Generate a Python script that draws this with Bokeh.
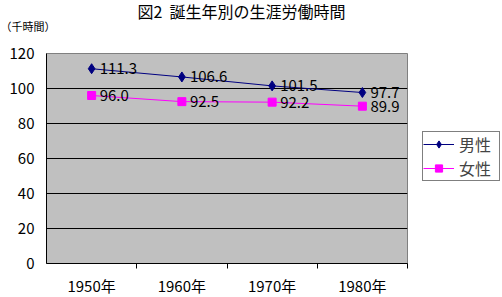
from bokeh.plotting import figure
from bokeh.models import Range1d, FixedTicker, Legend, LegendItem, ColumnDataSource, Title
from bokeh.core.properties import value
from bokeh.embed import file_html
from bokeh.resources import INLINE

years = ["1950年", "1960年", "1970年", "1980年"]
male = [111.3, 106.6, 101.5, 97.7]
female = [96.0, 92.5, 92.2, 89.9]
male_name = "男性"
female_name = "女性"
title_text = "図2\u00a0\u00a0誕生年別の生涯労働時間"
unit_text = "（千時間）"
y_ticks = [0, 20, 40, 60, 80, 100, 120]

FONT = "'Noto Sans CJK JP', 'Noto Sans', sans-serif"
xs = [i + 0.5 for i in range(len(years))]

p = figure(frame_width=361, frame_height=210, output_backend="svg", toolbar_location=None,
           x_range=Range1d(0, len(years)), y_range=Range1d(0, 120),
           min_border_left=46, min_border_right=95, min_border_top=53, min_border_bottom=33)
p.background_fill_color = "#C0C0C0"
p.border_fill_color = "white"
p.outline_line_color = "#808080"
p.outline_line_width = 1

# axes
p.yaxis.ticker = FixedTicker(ticks=y_ticks)
p.yaxis.major_tick_line_color = None
p.yaxis.major_tick_out = 0
p.yaxis.major_tick_in = 0
p.yaxis.minor_tick_line_color = None
p.yaxis.axis_line_color = "black"
p.yaxis.major_label_standoff = 12
p.yaxis.major_label_text_font = FONT
p.yaxis.major_label_text_font_size = "15px"
p.yaxis.major_label_text_color = "black"

p.xaxis.ticker = FixedTicker(ticks=xs, minor_ticks=[i + 1 for i in range(len(years))])
p.xaxis.major_label_overrides = {x: y for x, y in zip(xs, years)}
p.xaxis.major_tick_line_color = None
p.xaxis.major_tick_out = 0
p.xaxis.major_tick_in = 0
p.xaxis.minor_tick_line_color = "black"
p.xaxis.minor_tick_in = 0
p.xaxis.minor_tick_out = 5
p.xaxis.axis_line_color = "black"
p.xaxis.major_label_standoff = 6
p.xaxis.major_label_text_font = FONT
p.xaxis.major_label_text_font_size = "15px"
p.xaxis.major_label_text_color = "black"

p.xgrid.grid_line_color = None
p.ygrid.grid_line_color = "black"
p.ygrid.grid_line_alpha = 1.0
p.ygrid.ticker = FixedTicker(ticks=[20, 40, 60, 80, 100])

src = ColumnDataSource(dict(x=xs, male=male, female=female,
                            male_lbl=[f"{v:.1f}" for v in male],
                            female_lbl=[f"{v:.1f}" for v in female]))

lm = p.line("x", "male", source=src, line_color="#000080", line_width=1)
mm = p.scatter("x", "male", source=src, marker="diamond", size=10,
               fill_color="#000080", line_color="#000080")
lf = p.line("x", "female", source=src, line_color="#FF00FF", line_width=1)
mf = p.scatter("x", "female", source=src, marker="square", size=8,
               fill_color="#FF00FF", line_color="#FF00FF")

p.text("x", "male", text="male_lbl", source=src, x_offset=8, text_baseline="middle",
       text_align="left", text_font=value(FONT), text_font_size="15px", text_color="black")
p.text("x", "female", text="female_lbl", source=src, x_offset=8, text_baseline="middle",
       text_align="left", text_font=value(FONT), text_font_size="15px", text_color="black")

legend = Legend(items=[LegendItem(label=male_name, renderers=[lm, mm]),
                       LegendItem(label=female_name, renderers=[lf, mf])],
                location=(15, 82), margin=0, padding=0, spacing=0,
                glyph_width=31, glyph_height=18, label_height=18, label_standoff=5,
                label_width=40,
                label_text_font=FONT, label_text_font_size="16px",
                border_line_color="black", border_line_width=1,
                background_fill_color="white", background_fill_alpha=1.0)
p.add_layout(legend, "right")

# unit caption (closest to the plot), top-aligned with an empty second line below it
p.add_layout(Title(text=unit_text + "\n\u00a0", align="left", offset=-46, standoff=4,
                   vertical_align="top",
                   text_font=FONT, text_font_size="11px", text_font_style="normal",
                   text_color="black"), "above")
p.add_layout(Title(text=title_text, align="left", offset=91, standoff=-14,
                   text_font=FONT, text_font_size="16px", text_font_style="normal",
                   text_color="black"), "above")

open("out.html", "w").write(file_html(p, INLINE))
